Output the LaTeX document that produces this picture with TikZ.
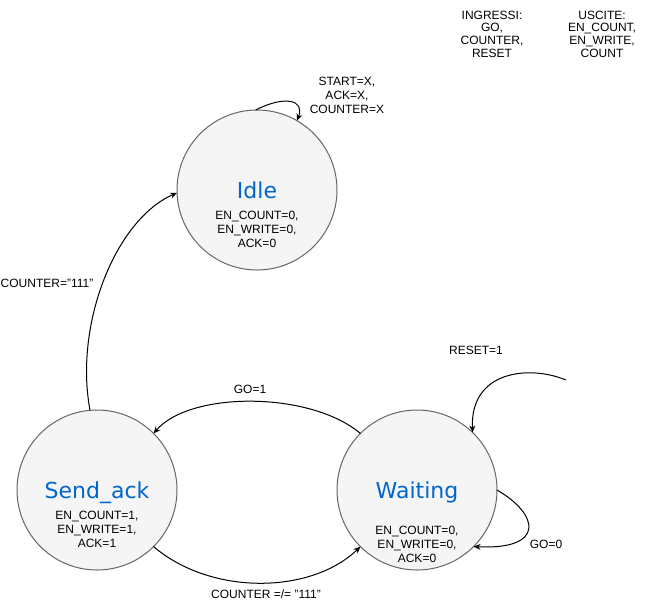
\documentclass[tikz,border=0pt]{standalone}
\usepackage{fontspec}
\setmainfont{Liberation Sans}
\newfontfamily\titlefont{DejaVu Sans}
\usetikzlibrary{arrows.meta}
\definecolor{stfill}{HTML}{F5F5F5}
\definecolor{stline}{HTML}{666666}
\definecolor{stblue}{HTML}{0066CC}

\tikzset{every picture/.style={line width=1pt}}

\begin{document}
\begin{tikzpicture}[x=1pt,y=1pt,>={Stealth[length=7pt,width=6pt]}]
\tikzstyle{every node}+=[inner sep=0pt]
\tikzstyle{state}=[circle,draw=stline,fill=stfill,minimum size=160pt,outer sep=0pt]
\tikzstyle{stname}=[anchor=base,text=stblue,font=\titlefont\fontsize{22}{26}\selectfont]
\tikzstyle{txt}=[align=center,font=\fontsize{12}{14}\selectfont]
\tikzstyle{io}=[align=center,font=\fontsize{12}{12.7}\selectfont]
\useasboundingbox (0,0) rectangle (647,-611);
% states
\node [state] (idle) at (257,-190) {};
\node [stname] (idlename) at (257,-198) {Idle};
\node [txt] (idleout) at (257,-229) {EN\_COUNT=0,\\EN\_WRITE=0,\\ACK=0};
\node [state] (send) at (97,-490) {};
\node [stname] (sendname) at (97,-498) {Send\_ack};
\node [txt] (sendout) at (97,-529) {EN\_COUNT=1,\\EN\_WRITE=1,\\ACK=1};
\node [state] (wait) at (417,-490) {};
\node [stname] (waitname) at (417,-498) {Waiting};
\node [txt] (waitout) at (417,-544) {EN\_COUNT=0,\\EN\_WRITE=0,\\ACK=0};
% inputs / outputs
\node [io] (ins) at (492,-34) {INGRESSI:\\GO,\\COUNTER,\\RESET};
\node [io] (outs) at (602,-34) {USCITE:\\EN\_COUNT,\\EN\_WRITE,\\COUNT};
% transitions
\coordinate (rst) at (566,-380);
\draw [->] (idle.91) .. controls (285,-95) and (305,-100) .. (idle.60);
\node [txt] (lblx) at (347,-95) {START=X,\\ACK=X,\\COUNTER=X};
\draw [->] (send.95) .. controls (74,-325) and (115,-220) .. (idle.182);
\node [txt] (lbl111) at (47,-283) {COUNTER="111"};
\draw [->] (wait.135) .. controls (310,-391) and (190,-391) .. (send.45);
\node [txt] (lblgo1) at (250,-389) {GO=1};
\draw [->] (send.-45) .. controls (210,-595) and (310,-595) .. (wait.-135);
\node [txt] (lblnot) at (266,-594) {COUNTER =/= "111"};
\draw [->] (rst) .. controls (530,-365) and (470,-370) .. (wait.46);
\node [txt] (lblrst) at (476,-350) {RESET=1};
\draw [->] (wait.0) .. controls (540,-515) and (545,-550) .. (wait.-45);
\node [txt] (lblgo0) at (546,-544) {GO=0};
\end{tikzpicture}
\end{document}
